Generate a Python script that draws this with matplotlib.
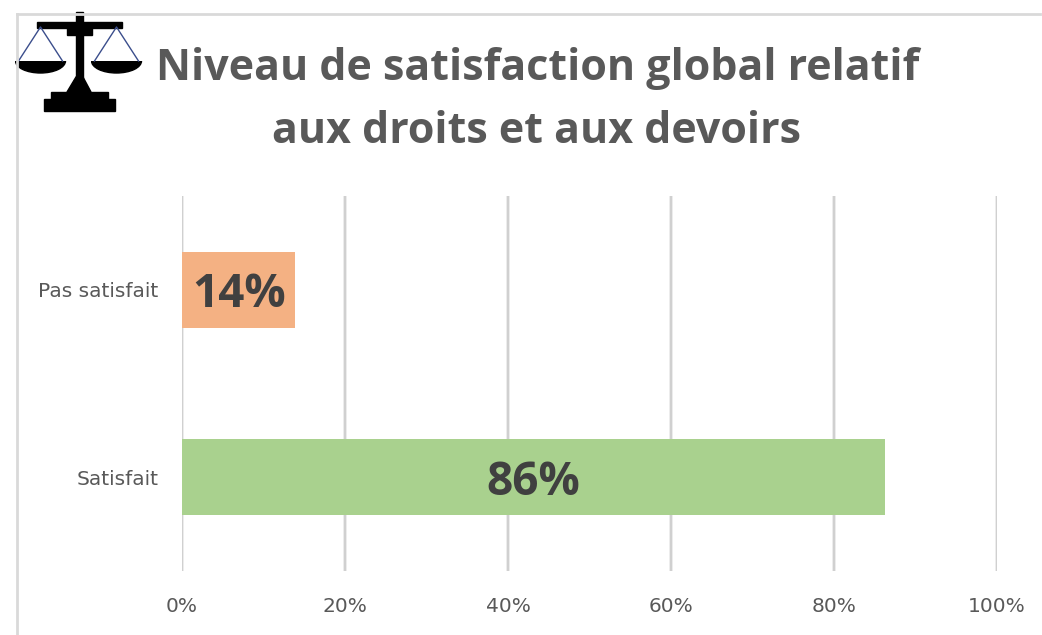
import matplotlib
matplotlib.use("Agg")
import matplotlib.pyplot as plt
from matplotlib.lines import Line2D
from matplotlib.patches import Ellipse, Polygon, Rectangle

categories = ["Satisfait", "Pas satisfait"]
values = [86.3, 13.9]
labels = ["86%", "14%"]
colors = ["#A9D18E", "#F4B183"]
xticks = [0, 20, 40, 60, 80, 100]

plt.rcParams['font.family'] = ['Open Sans', 'DejaVu Sans']

W, H = 1042, 635
fig = plt.figure(figsize=(W / 100, H / 100), dpi=100)

# plot area in pixels: x 0% at 182, 100% at 997, y from 196 to 571
ax = fig.add_axes([182 / W, 1 - 571 / H, (997 - 182) / W, (571 - 196) / H])
bars = ax.barh(categories, values, height=0.405, color=colors)
ax.set_xlim(0, 100)
ax.set_ylim(-0.5, 1.5)
ax.set_xticks(xticks)
ax.set_xticklabels([f"{t}%" for t in xticks], fontsize=14.5, color="#595959", family='DejaVu Sans')
ax.set_yticks([0, 1])
ax.set_yticklabels(categories, fontsize=14.5, color="#595959", family='DejaVu Sans')
ax.tick_params(axis='both', length=0)
ax.tick_params(axis='x', pad=18.5)
ax.tick_params(axis='y', pad=17)
ax.grid(axis='x', color="#D0D0D0", lw=2, snap=False)
ax.set_axisbelow(True)
for s in ax.spines.values():
    s.set_visible(False)

for b, v, lab in zip(bars, values, labels):
    ax.annotate(lab, (v / 2, b.get_y() + b.get_height() / 2), xytext=(0, -3.5), textcoords='offset points',
                ha='center', va='center', fontsize=33, fontweight='bold', color="#404040")

fig.text(538 / W, 1 - 68 / H, "Niveau de satisfaction global relatif", ha='center', va='center',
         fontsize=31, fontweight='bold', color="#595959")
fig.text(537 / W, 1 - 132 / H, "aux droits et aux devoirs", ha='center', va='center',
         fontsize=31, fontweight='bold', color="#595959")

# outer frame, left and top only
fig.add_artist(Line2D([16.5 / W, 16.5 / W], [0, 1 - 14 / H], color="#D9D9D9", lw=2))
fig.add_artist(Line2D([16.5 / W, 1040 / W], [1 - 14 / H, 1 - 14 / H], color="#D9D9D9", lw=2))

# scales icon, drawn in pixel coordinates
icon = fig.add_axes([0, 0, 1, 1], facecolor='none')
icon.set_xlim(0, W)
icon.set_ylim(H, 0)
icon.axis('off')
icon.add_patch(Rectangle((76, 12), 7, 70, color='black'))
icon.add_patch(Rectangle((37, 22), 85, 6, color='black'))
icon.add_patch(Rectangle((67, 28), 25, 7, color='black'))
icon.add_patch(Polygon([(76, 77), (83, 77), (91, 92), (67, 92)], color='black'))
icon.add_patch(Rectangle((51, 92), 57, 7, color='black'))
icon.add_patch(Rectangle((44, 99), 71, 12, color='black'))
for cx in (40.5, 116.5):
    icon.plot([cx - 22, cx, cx + 22], [61, 27, 61], color='#3B4E8C', lw=1)
    # pan is the lower half of an ellipse
    pan = Ellipse((cx, 61), 50, 24, color='black')
    icon.add_patch(pan)
    pan.set_clip_path(Rectangle((cx - 26, 61), 52, 14, transform=icon.transData))

fig.savefig("out.png", dpi=100)
